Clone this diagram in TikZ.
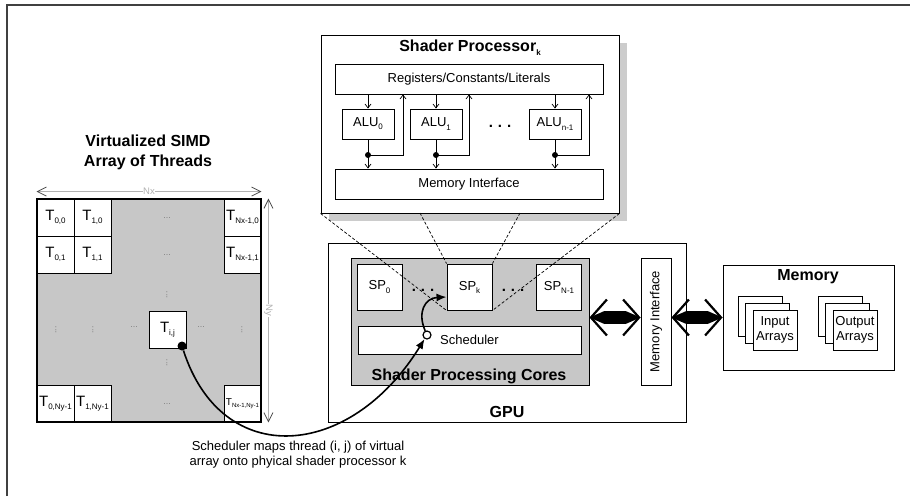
\documentclass[tikz,border=0pt]{standalone}
\usepackage{fontspec}
\setmainfont{Liberation Sans}
\usetikzlibrary{arrows.meta,positioning,shadows}
\newcommand{\tsub}[1]{\raisebox{-0.45ex}{\fontsize{8}{8}\selectfont #1}}
\newcommand{\tinysub}[1]{\raisebox{-0.45ex}{\fontsize{6}{6}\selectfont #1}}
\begin{document}
\begin{tikzpicture}[x=1pt,y=-1pt,
  every node/.style={font=\fontsize{13}{15}\selectfont},
  box/.style={draw,fill=white,inner sep=0pt,line width=0.9pt},
  cell/.style={box,minimum width=37pt,minimum height=37pt,font=\fontsize{15}{15}\selectfont},
  alubox/.style={box,minimum width=52pt,minimum height=30pt},
  spbox/.style={box,minimum width=45pt,minimum height=46pt},
  stack/.style={box,minimum width=44pt,minimum height=40pt,align=center},
  heading/.style={font=\fontsize{16}{20}\selectfont\bfseries,align=center},
  griddots/.style={text=gray,font=\fontsize{9}{9}\selectfont,inner sep=0pt},
  bigdots/.style={font=\fontsize{15}{15}\selectfont\bfseries,inner sep=0pt},
  dim/.style={black!30,line width=0.8pt,{Straight Barb[length=9pt,width=9pt,black!70]}-{Straight Barb[length=9pt,width=9pt,black!70]}},
  wire/.style={line width=0.7pt,-{Straight Barb[length=4pt,width=6pt]}},
  zoomline/.style={line width=0.7pt,dash pattern=on 3pt off 2pt},
  flow/.style={line width=1.6pt,-{Latex[length=10pt,width=8pt]}},
  bus/.style={line width=13pt,{Triangle[length=15pt,width=13pt,line width=0pt]}-{Triangle[length=15pt,width=13pt,line width=0pt]}},
  busbarb/.style={line width=2.2pt,{Straight Barb[length=16pt,width=36pt]}-{Straight Barb[length=16pt,width=36pt]}}]
\useasboundingbox (0,0) rectangle (910,496);

% Rahmen
\draw[line width=1.5pt,black!75] (7,496) -- (7,5) -- (910,5);

% Threads
\node[heading] at (148,152) {Virtualized SIMD\\Array of Threads};
\node[box,fill=black!22,minimum width=224pt,minimum height=223pt] (arr) at (149,310.5) {};
\node[cell] (t00) at (55.5,217.5) {T\tsub{0,0}};
\node[cell] (t10) at (92.5,217.5) {T\tsub{1,0}};
\node[cell] (tn0) at (242.5,217.5) {T\tsub{Nx-1,0}};
\node[cell] (t01) at (55.5,254.5) {T\tsub{0,1}};
\node[cell] (t11) at (92.5,254.5) {T\tsub{1,1}};
\node[cell] (tn1) at (242.5,254.5) {T\tsub{Nx-1,1}};
\node[cell] (t0n) at (55.5,403.5) {T\tsub{0,Ny-1}};
\node[cell] (t1n) at (92.5,403.5) {T\tsub{1,Ny-1}};
\node[cell,font=\fontsize{10}{10}\selectfont] (tnn) at (242.5,403.5) {T\tinysub{Nx-1,Ny-1}};
\node[cell] (tij) at (167.5,329.5) {T\tsub{i,j}};
\draw[line width=2pt] (arr.north west) rectangle (arr.south east);
\node[griddots] at (167,218) {...};
\node[griddots] at (167,255) {...};
\node[griddots] at (167,404) {...};
\node[griddots] at (134,327) {...};
\node[griddots] at (201,327) {...};
\node[griddots,rotate=90] at (167,295) {...};
\node[griddots,rotate=90] at (167,363) {...};
\node[griddots,rotate=90] at (56,330) {...};
\node[griddots,rotate=90] at (93,330) {...};
\node[griddots,rotate=90] at (242,330) {...};
\draw[dim] ([yshift=7pt]arr.north west) -- ([yshift=7pt]arr.north east)
  node[midway,fill=white,inner sep=0.5pt,font=\fontsize{9.5}{10}\selectfont] {Nx};
\draw[dim] ([xshift=7pt]arr.north east) -- ([xshift=7pt]arr.south east)
  node[midway,fill=white,inner sep=0.5pt,rotate=-90,font=\fontsize{9.5}{10}\selectfont] {Ny};

% Shader Processor
\node[box,minimum width=298pt,minimum height=178pt,
  drop shadow={shadow xshift=8pt,shadow yshift=-8pt,fill=black!20,opacity=1}] (sp) at (470,124) {};
\node[heading] at (470,48) {Shader Processor\tsub{k}};
\node[box,minimum width=268pt,minimum height=30pt] (regs) at (469,79) {Registers/Constants/Literals};
\node[alubox] (alu0) at (368,124) {ALU\tsub{0}};
\node[alubox] (alu1) at (436,124) {ALU\tsub{1}};
\node[alubox] (alun) at (555,124) {ALU\tsub{n-1}};
\node[bigdots] at (500,126) {.\hspace{5pt}.\hspace{5pt}.};
\node[box,minimum width=268pt,minimum height=30pt] (spmem) at (469,184) {Memory Interface};
\coordinate (j0) at (368,155);
\coordinate (u0) at (403,155);
\coordinate (j1) at (436,155);
\coordinate (u1) at (469,155);
\coordinate (jn) at (555,155);
\coordinate (un) at (589,155);
\draw[wire] (regs.south -| alu0) -- (alu0.north);
\draw[wire] (alu0.south) -- (alu0 |- spmem.north);
\draw[wire] (j0) -- (u0) -- (u0 |- regs.south);
\fill (j0) circle (3pt);
\draw[wire] (regs.south -| alu1) -- (alu1.north);
\draw[wire] (alu1.south) -- (alu1 |- spmem.north);
\draw[wire] (j1) -- (u1) -- (u1 |- regs.south);
\fill (j1) circle (3pt);
\draw[wire] (regs.south -| alun) -- (alun.north);
\draw[wire] (alun.south) -- (alun |- spmem.north);
\draw[wire] (jn) -- (un) -- (un |- regs.south);
\fill (jn) circle (3pt);

% GPU
\node[box,minimum width=358pt,minimum height=179pt] (gpu) at (507,332.5) {};
\node[heading] at (507,412) {GPU};
\node[box,fill=black!22,minimum width=238pt,minimum height=127pt] (spc) at (470,321.5) {};
\node[heading] at (469,376) {Shader Processing Cores};
\node[spbox] (sp0) at (379.5,287) {SP\tsub{0}};
\node[spbox] (spk) at (469.5,287) {SP\tsub{k}};
\node[spbox] (spn) at (559,287) {SP\tsub{N-1}};
\node[bigdots] at (423,290) {.\hspace{5pt}.\hspace{5pt}.};
\node[bigdots] at (513,290) {.\hspace{5pt}.\hspace{5pt}.};
\node[box,minimum width=223pt,minimum height=28pt] (sched) at (469.5,340) {Scheduler};
\node[circle,draw,fill=white,line width=1.2pt,inner sep=0pt,minimum size=8pt] (schdot) at (427,335) {};
\node[box,minimum width=30pt,minimum height=127pt] (gpumem) at (656,321.5) {\rotatebox{90}{Memory Interface}};

% Speicher
\node[box,minimum width=171pt,minimum height=105pt] (mem) at (808.5,317.5) {};
\node[heading] at (808,277) {Memory};
\node[stack] (in2) at (760,316) {};
\node[stack] (in1) at (767.5,323) {};
\node[stack] (in0) at (775,330) {Input\\Arrays};
\node[stack] (out2) at (840,316) {};
\node[stack] (out1) at (847.5,323) {};
\node[stack] (out0) at (855,330) {Output\\Arrays};

% Verbindungen
\coordinate (spm1) at (420,213);
\coordinate (spm2) at (520,213);
\draw[zoomline] (sp.south west) -- (spk.south west);
\draw[zoomline] (spm1) -- (spk.north west);
\draw[zoomline] (spm2) -- (spk.north east);
\draw[zoomline] (sp.south east) -- (spk.south east);
\draw[bus] (spc.east |- mem.west) -- (gpumem.west |- mem.west);
\draw[busbarb] (spc.east |- mem.west) -- (gpumem.west |- mem.west);
\draw[bus] (gpumem.east |- mem.west) -- (mem.west);
\draw[busbarb] (gpumem.east |- mem.west) -- (mem.west);
\node[circle,fill,inner sep=0pt,minimum size=9pt] (tijdot) at (182,346) {};
\draw[flow] (tijdot) .. controls (222,470) and (350,460) .. (schdot);
\draw[flow] (schdot) .. controls (417,312) and (425,298) .. ([yshift=-10pt]spk.west);
\node[align=center] (maplabel) at (298,455) {Scheduler maps thread (i, j) of virtual\\array onto phyical shader processor k};
\end{tikzpicture}
\end{document}
